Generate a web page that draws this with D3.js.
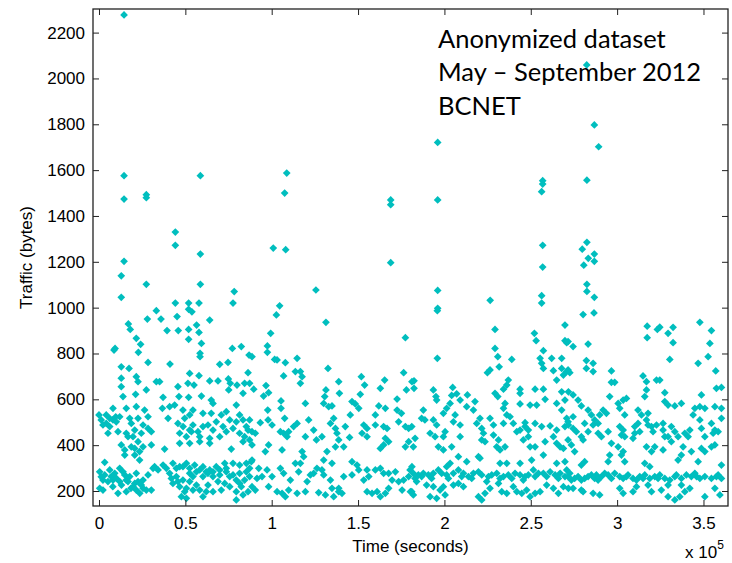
<!DOCTYPE html>
<html>
<head>
<meta charset="utf-8">
<title>Traffic scatter</title>
<script src="https://cdn.jsdelivr.net/npm/d3@7"></script>
<style>
body { margin: 0; background: #fff; }
.axis text { font: 17px "Liberation Sans", Arial, sans-serif; fill: #000; }
.axis line { stroke: #222; }
.lbl { font: 17px "Liberation Sans", Arial, sans-serif; fill: #000; }
.note { font: 25.5px Lato, sans-serif; fill: #000; }
</style>
</head>
<body>
<svg width="732" height="563"></svg>
<script>

// time in units of 10^5 seconds, traffic in bytes
var xTicks = [0, 0.5, 1, 1.5, 2, 2.5, 3, 3.5];
var yTicks = [200, 400, 600, 800, 1000, 1200, 1400, 1600, 1800, 2000, 2200];
var noteLines = ["Anonymized dataset", "May \u2013 September 2012", "BCNET"];

// sparse points above ~1000 bytes
var highPoints = [
  [0.145,2277],[0.145,1576],[0.145,1474],[0.274,1493],[0.274,1480],[0.587,1576],[0.442,1330],[0.442,1272],
  [0.587,1234],[0.145,1202],[0.129,1139],[0.274,1102],[0.129,1045],[0.587,1102],[0.783,1070],[0.442,1020],
  [0.519,1020],[0.579,1020],[0.776,1020],[1.009,1260],[1.081,1253],[1.075,1500],[1.087,1587],[1.046,1008],
  [1.256,1077],[1.689,1470],[1.689,1449],[1.689,1196],
  [2.824,2059],[1.961,1721],[1.961,1470],[2.569,1554],[2.569,1539],[2.563,1506],[2.825,1556],[2.868,1797],
  [2.893,1702],[2.569,1272],[2.569,1177],[2.825,1285],[2.798,1255],[2.833,1215],[2.868,1234],[2.868,1202],
  [2.807,1185],[2.825,1102],[2.825,1071],[2.868,1045],[2.563,1052],[2.563,1020],[2.265,1032],[1.961,1075],
  [1.961,997]
];

var seg1 = [
  [0.519,993],[0.538,982],[0.332,987],[0.280,950],[0.359,950],[0.452,961],[0.641,946],[0.519,905],[0.565,924],
  [0.170,929],[0.181,905],[0.394,900],[0.459,900],[0.579,892],[0.216,866],[0.241,840],[0.228,805],[0.519,862],
  [0.093,822],[0.087,815],[0.593,844],[0.585,801],[0.585,786],[0.772,822],[0.824,830],[0.869,793],[0.284,761],
  [0.411,754],[0.129,742],[0.174,735],[0.699,753],[0.747,761],[0.525,713],[0.579,703],[0.129,692],[0.129,655],
  [0.216,699],[0.226,677],[0.332,677],[0.351,677],[0.641,680],[0.689,680],[0.749,689],[0.760,670],[0.799,662],
  [0.843,670],[0.863,716],[0.872,670],[0.457,655],[0.274,641],[0.515,670],[0.550,662],[0.139,612],[0.212,622],
  [0.371,609],[0.463,612],[0.519,609],[0.593,614],[0.751,641],[0.834,626],[0.650,597],[0.660,582],
  [0.000,532],[0.042,532],[0.081,561],[0.097,524],[0.158,561],[0.216,568],[0.264,553],[0.284,524],[0.367,561],
  [0.409,568],[0.438,575],[0.486,553],[0.525,532],[0.544,553],[0.602,539],[0.650,539],[0.708,532],[0.737,546],
  [0.795,575],[0.814,532],[0.834,510],[0.872,510],
  [0.042,495],[0.062,481],[0.081,510],[0.100,502],[0.187,495],[0.226,517],[0.255,488],[0.284,473],[0.303,459],
  [0.052,452],[0.110,459],[0.158,452],[0.207,466],[0.400,517],[0.457,495],[0.496,517],[0.544,488],[0.573,459],
  [0.631,488],[0.679,502],[0.718,481],[0.737,459],[0.776,473],[0.814,452],[0.853,481],[0.863,466],[0.467,452],
  [0.506,437],[0.535,459],[0.583,437],[0.641,430],[0.699,437],[0.129,401],[0.149,379],[0.187,393],[0.207,386],
  [0.235,372],[0.255,393],[0.303,401],[0.380,383],[0.467,408],[0.525,408],[0.583,415],[0.641,408],[0.766,383],
  [0.834,415],[0.149,357],[0.207,357],[0.235,335],[0.033,325],
  [0.013,510],[0.023,488],[0.062,517],[0.120,524],[0.178,517],[0.168,437],[0.197,437],[0.226,415],[0.245,452],
  [0.487,481],[0.525,466],[0.602,481],[0.660,466],[0.757,510],[0.795,502],[0.843,437],[0.872,423],
  [0.004,284],[0.062,292],[0.091,277],[0.120,299],[0.149,270],[0.178,263],[0.216,277],[0.255,248],[0.284,270],
  [0.322,306],[0.371,313],[0.428,321],[0.467,306],[0.506,321],[0.554,313],[0.602,306],[0.641,292],[0.679,306],
  [0.728,321],[0.776,321],[0.814,313],[0.853,321],[0.882,328],[0.023,248],[0.052,241],[0.081,248],[0.120,241],
  [0.158,248],[0.207,233],[0.245,226],[0.409,277],[0.448,263],[0.486,248],[0.525,277],[0.564,284],[0.602,263],
  [0.631,277],[0.660,263],[0.699,270],[0.737,284],[0.776,270],[0.814,277],[0.853,284],[0.872,263],[0.004,212],
  [0.023,204],[0.110,190],[0.158,197],[0.216,204],[0.255,212],[0.274,204],[0.303,204],[0.428,233],[0.467,219],
  [0.496,197],[0.525,241],[0.564,226],[0.583,204],[0.621,197],[0.660,197],[0.708,204],[0.757,219],[0.795,197],
  [0.824,219],[0.863,197],[0.506,168],[0.477,175],[0.602,175],[0.795,161],[0.834,183],
  [0.013,262],[0.033,270],[0.071,263],[0.101,255],[0.139,284],[0.168,241],[0.197,219],[0.226,241],[0.236,190],
  [0.313,299],[0.342,292],[0.390,299],[0.448,299],[0.486,306],[0.525,299],[0.544,263],[0.583,292],[0.621,284],
  [0.660,284],[0.699,292],[0.737,299],[0.757,263],[0.795,248],[0.843,248],[0.872,299],[0.419,255],[0.457,241],
  [0.506,212],[0.544,204],[0.631,226],[0.689,241],[0.728,233],[0.815,233],[0.080,219],[0.130,226],[0.185,212]
];

var seg2 = [
  [1.027,968],[1.314,936],[0.994,888],[1.774,869],[0.975,833],[0.975,805],[1.017,774],[1.031,772],[1.079,760],
  [1.147,779],[0.886,786],[1.137,721],[1.166,721],[1.176,699],[1.166,670],[1.069,702],[1.326,735],[1.764,716],
  [1.519,699],[1.538,662],[1.388,677],[1.654,684],[1.629,648],[1.812,677],[1.780,641],[0.967,660],[0.982,629],
  [0.953,614],[0.896,644],[1.314,641],[1.307,612],[1.301,582],[1.330,568],[1.349,571],[1.392,626],[1.513,622],
  [1.465,590],[1.484,580],[1.504,561],[1.455,532],[1.195,582],[1.054,593],[1.054,561],[1.726,601],[1.620,571],
  [1.658,561],[1.726,553],[1.751,539],[0.977,553],[0.979,510],[1.075,517],[1.214,510],[0.934,498],[1.002,488],
  [1.050,459],[1.069,452],[1.089,437],[1.098,459],[1.127,481],[1.147,495],[0.886,459],[0.905,452],[1.359,517],
  [1.340,495],[1.369,473],[1.378,452],[1.388,423],[1.369,393],[1.195,437],[1.259,423],[1.291,437],[1.451,434],
  [1.533,488],[1.552,473],[1.523,452],[1.552,437],[1.600,488],[1.648,481],[1.668,473],[1.735,502],[1.774,481],
  [1.793,473],[1.658,430],[1.677,415],[1.648,401],[1.774,393],[1.793,415],[1.629,386],[0.886,401],[0.982,401],
  [0.963,372],[1.060,379],[1.176,372],[1.185,350],[1.166,321],[1.320,372],[1.301,335],[1.349,321],[1.417,393],
  [0.886,335],[0.973,292],[1.050,299],[1.069,277],[1.108,248],[1.137,321],[1.224,270],[1.243,277],[1.205,241],
  [1.291,292],[1.301,270],[1.340,248],[1.465,328],[1.494,313],[1.504,292],[1.465,270],[1.533,248],[1.562,263],
  [1.600,292],[1.629,299],[1.648,277],[1.677,277],[1.697,248],[1.735,241],[1.764,248],[1.793,263],[1.812,306],
  [0.915,255],[0.944,263],[0.905,204],[0.886,219],[0.982,219],[1.031,197],[1.060,190],[1.079,175],[1.098,204],
  [1.147,190],[1.195,197],[1.272,193],[1.311,183],[1.359,175],[1.388,197],[1.407,190],[1.349,212],[1.388,212],
  [1.552,197],[1.581,190],[1.610,197],[1.629,175],[1.658,190],[1.677,212],[1.755,204],[1.803,197],
  [0.925,299],[1.002,263],[1.156,284],[1.262,299],[1.417,263],[1.552,292],[1.716,284],[1.426,481],[1.243,466],
  [1.600,532]
];

var seg3 = [
  [1.959,987],[2.698,924],[2.293,905],[2.521,888],[2.531,856],[2.698,856],[2.708,847],[1.959,779],[2.293,822],
  [2.309,786],[2.317,742],[2.390,774],[2.264,728],[2.249,716],[2.573,812],[2.554,779],[2.563,757],[2.573,735],
  [2.621,779],[2.679,779],[2.631,725],[2.679,735],[2.708,721],[2.650,684],[2.689,706],[1.824,681],[1.824,648],
  [1.936,641],[1.951,612],[1.955,597],[2.048,652],[2.370,684],[2.361,662],[2.342,644],[2.293,626],[2.309,612],
  [2.438,644],[2.438,626],[2.525,644],[2.573,644],[2.583,600],[2.679,633],[2.698,597],[2.718,633],[2.042,617],
  [2.071,624],[2.091,597],[2.033,582],[2.013,561],[1.994,539],[2.133,619],[2.177,590],[2.129,568],[2.351,582],
  [2.342,561],[2.361,532],[2.438,580],[2.496,575],[2.534,575],[2.650,582],[2.679,553],[2.708,517],[1.878,553],
  [1.868,517],[1.887,510],[1.811,481],[1.830,430],[1.936,510],[1.955,488],[1.917,452],[1.946,437],[2.062,532],
  [2.052,502],[2.091,488],[2.168,553],[2.206,517],[2.187,495],[2.216,473],[2.226,452],[2.264,517],[2.284,488],
  [2.342,495],[2.380,524],[2.399,495],[2.419,459],[2.438,466],[2.467,481],[2.486,466],[2.467,498],[2.525,495],
  [2.563,481],[2.612,484],[2.650,466],[2.698,481],[2.718,488],[2.004,459],[1.994,437],[2.091,437],[2.042,393],
  [1.820,393],[1.965,393],[1.994,379],[2.216,423],[2.235,415],[2.284,444],[2.313,423],[2.303,393],[2.322,379],
  [2.351,393],[2.457,423],[2.486,437],[2.496,393],[2.525,393],[2.583,415],[2.631,437],[2.650,408],[2.670,393],
  [2.689,386],[2.573,357],[2.197,350],[2.206,343],[2.081,350],[2.033,321],[2.013,306],[2.129,328],[2.322,321],
  [2.361,321],[2.438,321],[2.505,335],[2.650,321],[2.698,328],
  [1.801,292],[1.820,277],[1.849,270],[1.878,277],[1.907,270],[1.936,277],[1.965,292],[1.984,277],[2.013,270],
  [2.052,277],[2.081,292],[2.110,277],[2.139,263],[2.168,277],[2.197,284],[2.216,270],[2.245,241],[2.274,270],
  [2.303,277],[2.342,263],[2.370,270],[2.409,277],[2.438,270],[2.467,263],[2.486,270],[2.515,292],[2.544,277],
  [2.573,277],[2.612,284],[2.641,270],[2.670,277],[2.708,292],
  [1.839,241],[1.897,226],[1.936,219],[1.975,204],[2.004,183],[1.994,219],[2.052,226],[2.081,233],[2.110,219],
  [1.917,175],[1.955,168],[1.811,197],[1.820,183],[2.197,175],[2.216,161],[2.235,190],[2.264,212],[2.313,233],
  [2.332,197],[2.361,190],[2.399,219],[2.419,197],[2.448,190],[2.476,204],[2.496,175],[2.525,190],[2.554,197],
  [2.592,226],[2.631,212],[2.660,190],[2.689,219],[2.718,212],
  [1.830,255],[1.868,263],[1.926,255],[2.023,255],[2.100,263],[2.158,255],[2.255,263],[2.322,255],[2.390,255],
  [2.457,248],[2.525,263],[2.592,263],[2.660,255],[2.698,263]
];

var seg4 = [
  [2.803,970],[2.866,977],[3.174,919],[3.174,869],[3.233,905],[3.247,915],[3.295,888],[3.324,914],[3.324,847],
  [3.479,936],[3.546,900],[3.537,844],[3.527,786],[3.469,757],[3.571,724],[3.305,774],[2.832,841],[2.745,830],
  [2.716,852],[2.822,769],[2.861,757],[2.822,735],[2.861,721],[2.716,728],[2.726,716],[2.967,724],[2.967,674],
  [2.986,674],[3.150,702],[3.170,677],[3.228,684],[3.247,684],[3.170,641],[3.160,612],[3.276,629],[3.575,648],
  [3.604,652],[3.488,619],[2.745,619],[2.774,597],[2.793,571],[2.832,553],[2.851,532],[2.870,510],[2.890,495],
  [2.919,553],[2.899,532],[2.938,539],[2.957,612],[3.006,582],[3.035,597],[3.054,604],[3.015,561],[3.044,532],
  [3.121,553],[3.141,532],[3.179,539],[3.170,510],[3.276,590],[3.295,575],[3.334,571],[3.372,582],[3.450,561],
  [3.479,568],[3.508,561],[3.566,568],[3.604,561],[3.440,532],[2.745,524],[2.716,502],[2.745,473],[2.764,459],
  [2.812,495],[2.861,488],[2.832,459],[2.890,452],[2.909,437],[2.793,437],[2.803,423],[2.948,459],[3.015,481],
  [3.035,466],[3.025,444],[3.044,437],[3.102,481],[3.121,495],[3.131,459],[3.102,452],[3.092,430],[3.179,488],
  [3.199,481],[3.228,488],[3.208,459],[3.266,495],[3.266,466],[3.276,437],[3.314,481],[3.334,459],[3.353,437],
  [3.392,452],[3.421,466],[3.411,437],[3.479,510],[3.488,473],[3.508,437],[3.546,495],[3.566,466],[3.556,452],
  [3.585,459],[3.604,517],[2.716,423],[2.735,401],[2.754,372],[2.967,408],[3.006,393],[3.035,372],[3.025,357],
  [3.044,328],[3.170,393],[3.218,393],[3.199,372],[3.266,379],[3.295,437],[3.314,415],[3.382,393],[3.430,372],
  [3.372,357],[3.488,386],[3.508,372],[3.546,393],[3.566,401],[2.957,357],[2.948,328],[2.812,328],[2.793,313],
  [3.160,321],[3.189,306],[3.353,335],[3.604,313],[3.469,328],
  [2.716,263],[2.735,248],[2.754,255],[2.774,263],[2.793,248],[2.812,255],[2.832,263],[2.851,270],[2.870,255],
  [2.890,248],[2.909,263],[2.928,277],[2.948,270],[2.967,255],[2.986,277],[3.015,263],[3.035,255],[3.063,270],
  [3.092,255],[3.112,248],[3.131,263],[3.160,270],[3.189,255],[3.218,263],[3.247,270],[3.276,255],[3.305,248],
  [3.334,263],[3.372,255],[3.401,270],[3.430,263],[3.450,277],[3.479,255],[3.508,263],[3.546,255],[3.575,263],
  [3.604,255],
  [2.745,212],[2.793,204],[2.803,197],[2.861,190],[2.899,183],[3.015,212],[3.035,190],[3.092,197],[3.112,219],
  [3.179,226],[3.199,197],[3.256,204],[3.295,175],[3.334,161],[3.363,175],[3.392,197],[3.421,212],[3.508,175],
  [3.566,212],[3.595,183],[3.295,226],[3.372,226],
  [2.726,277],[2.880,270],[3.054,263],[3.150,255],[3.237,255],[3.343,270],[3.460,263],[3.585,270]
];

var points = highPoints.concat(seg1, seg2, seg3, seg4);

var svg = d3.select("svg"),
    plotLeft = 93, plotTop = 9, plotRight = 728, plotBottom = 506;

var x = d3.scaleLinear().domain([-0.0347, 3.642]).range([plotLeft, plotRight]);
var y = d3.scaleLinear().domain([134.6, 2303]).range([plotBottom, plotTop]);

// markers
var diamond = d3.symbol().type(d3.symbolSquare).size(30);
svg.append("g")
  .selectAll("path")
  .data(points)
  .enter().append("path")
    .attr("d", diamond)
    .attr("transform", function(d) { return "translate(" + x(d[0]) + "," + y(d[1]) + ") rotate(45)"; })
    .attr("fill", "#00bebe");

// axes with inward ticks, MATLAB style box
svg.append("g").attr("class", "axis")
    .attr("transform", "translate(0," + plotBottom + ")")
    .call(d3.axisBottom(x).tickValues(xTicks).tickSizeInner(-6).tickSizeOuter(0).tickPadding(11).tickFormat(d3.format("")))
    .call(function(g) { g.select(".domain").remove(); });

svg.append("g").attr("class", "axis")
    .attr("transform", "translate(0," + plotTop + ")")
    .call(d3.axisTop(x).tickValues(xTicks).tickSizeInner(-6).tickSizeOuter(0).tickFormat(""))
    .call(function(g) { g.select(".domain").remove(); });

svg.append("g").attr("class", "axis")
    .attr("transform", "translate(" + plotLeft + ",0)")
    .call(d3.axisLeft(y).tickValues(yTicks).tickSizeInner(-6).tickSizeOuter(0).tickPadding(8).tickFormat(d3.format("d")))
    .call(function(g) { g.select(".domain").remove(); });

svg.append("g").attr("class", "axis")
    .attr("transform", "translate(" + plotRight + ",0)")
    .call(d3.axisRight(y).tickValues(yTicks).tickSizeInner(-6).tickSizeOuter(0).tickFormat(""))
    .call(function(g) { g.select(".domain").remove(); });

svg.append("rect")
    .attr("x", plotLeft).attr("y", plotTop)
    .attr("width", plotRight - plotLeft).attr("height", plotBottom - plotTop)
    .attr("fill", "none").attr("stroke", "#222").attr("stroke-width", 1.3);

// labels
svg.append("text").attr("class", "lbl")
    .attr("x", (plotLeft + plotRight) / 2).attr("y", 552)
    .attr("text-anchor", "middle")
    .text("Time (seconds)");

svg.append("text").attr("class", "lbl")
    .attr("transform", "translate(32," + (plotTop + plotBottom) / 2 + ") rotate(-90)")
    .attr("text-anchor", "middle")
    .text("Traffic (bytes)");

var sci = svg.append("text").attr("class", "lbl").attr("x", 685).attr("y", 558);
sci.append("tspan").text("x 10");
sci.append("tspan").attr("dy", -9).style("font-size", "12px").text("5");

svg.append("g")
  .selectAll("text")
  .data(noteLines)
  .enter().append("text")
    .attr("class", "note")
    .attr("x", 438)
    .attr("y", function(d, i) { return 48 + i * 33.3; })
    .text(function(d) { return d; });

</script>
</body>
</html>
